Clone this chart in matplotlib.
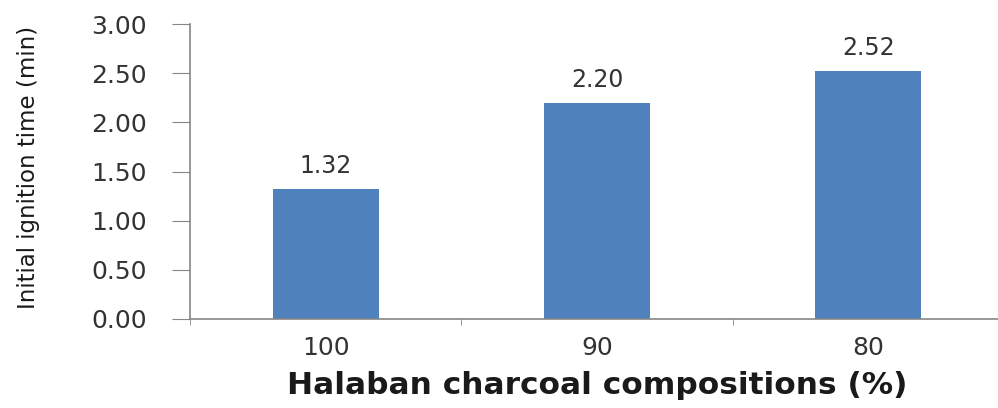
import matplotlib.pyplot as plt
import numpy as np

# Datos
composiciones = ["100", "90", "80"]
tiempo_ignicion = [1.32, 2.20, 2.52]
ticks_y = [0.0, 0.5, 1.0, 1.5, 2.0, 2.5, 3.0]

color_barra = "#4F81BD"
color_eje = "#868686"
color_texto = "#333333"

fig = plt.figure(figsize=(9.98, 4.08), dpi=100)
ax = fig.add_axes([190 / 998, (408 - 319) / 408, 814 / 998, 295 / 408])

x = np.arange(len(composiciones))
barras = ax.bar(x, tiempo_ignicion, width=0.39, color=color_barra, zorder=2)

# Etiquetas de datos
for xi, v in zip(x, tiempo_ignicion):
    ax.annotate(f"{v:.2f}", (xi, v), xytext=(0, 8), textcoords="offset points",
                ha="center", va="bottom", fontsize=17, color=color_texto)

ax.set_xlim(-0.5, 2.5)
ax.set_ylim(0, 3.0)
ax.set_yticks(ticks_y)
ax.set_yticklabels([f"{t:.2f}" for t in ticks_y], fontsize=18, color=color_texto)

# Eje X: marcas en los limites de categoria
ax.set_xticks(x)
ax.set_xticklabels(composiciones, fontsize=18, color=color_texto)
ax.set_xticks(np.arange(-0.5, 3, 1), minor=True)
ax.tick_params(axis="x", which="major", length=0, pad=12)
ax.tick_params(axis="x", which="minor", length=4, color=color_eje, direction="out")
ax.tick_params(axis="y", length=13, color=color_eje, pad=18)

for s in ["top", "right"]:
    ax.spines[s].set_visible(False)
ax.spines["left"].set_color(color_eje)
ax.spines["bottom"].set_color(color_eje)
ax.spines["left"].set_linewidth(1.2)
ax.spines["bottom"].set_linewidth(1.2)

ax.set_xlabel("Halaban charcoal compositions (%)", fontsize=22.5, fontweight="bold",
              color="#1a1a1a", labelpad=8)
ax.set_ylabel("Initial ignition time (min)", fontsize=16.5, color="#1a1a1a")
ax.yaxis.set_label_coords(-(190 - 40) / 814, 0.515)

fig.savefig("out.png", dpi=100)
